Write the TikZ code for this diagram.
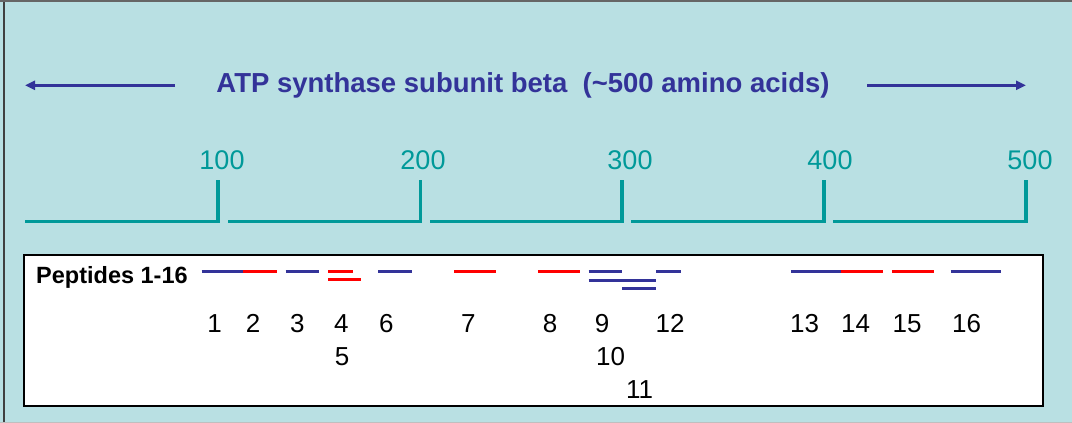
\documentclass[tikz,border=0pt]{standalone}
\usepackage{fontspec}
\setmainfont{Liberation Sans}
\usetikzlibrary{arrows.meta, positioning}
\definecolor{SlideBg}{RGB}{185, 224, 227}
\definecolor{TitleBlue}{RGB}{51, 51, 153}
\definecolor{ScaleTeal}{RGB}{0, 153, 153}
\definecolor{PepRed}{RGB}{255, 0, 0}
\tikzset{
    titlearrow/.style={-{Triangle[length=10pt, width=9pt]}, line width=2.8pt, color=TitleBlue},
    scaleline/.style={line width=3.5pt, color=ScaleTeal, line join=miter},
    scalelabel/.style={anchor=base, inner sep=0pt, text=ScaleTeal, font=\fontsize{27}{32}\selectfont},
    pepblue/.style={line width=3pt, color=TitleBlue},
    pepred/.style={line width=3pt, color=PepRed},
}

\begin{document}
\begin{tikzpicture}[x=1pt, y=-1pt]
                \tikzstyle{peplabel}=[anchor=base, inner sep=0pt, font=\fontsize{26}{30}\selectfont]
                \useasboundingbox (0,0) rectangle (1072,423);

                % Slide background
                \fill[SlideBg] (0,0) rectangle (1072,423);
                \draw[line width=2pt, black!75] (3.5,0) -- (3.5,423);
                \draw[line width=2pt, black!60] (0,1) -- (1072,1);
                \draw[line width=1pt, black!25] (0,422.5) -- (1072,422.5);

                % Title with arrows
                \node[anchor=base, inner sep=0pt, text=TitleBlue, font=\fontsize{27.5}{32}\selectfont\bfseries] (title) at (523,92.3) {ATP synthase subunit beta\ \ (\textasciitilde500 amino acids)};
                \coordinate (arrL1) at (175,85.3);
                \coordinate (arrL2) at (25,85.3);
                \coordinate (arrR1) at (867,85.3);
                \coordinate (arrR2) at (1026,85.3);
                \draw[titlearrow] (arrL1) -- (arrL2);
                \draw[titlearrow] (arrR1) -- (arrR2);

                % Scale
                \node[scalelabel] (s100) at (222,169.3) {100};
                \node[scalelabel] (s200) at (423,169.3) {200};
                \node[scalelabel] (s300) at (630,169.3) {300};
                \node[scalelabel] (s400) at (830,169.3) {400};
                \node[scalelabel] (s500) at (1030,169.3) {500};
                \draw[scaleline] (25,221.5) -- (218,221.5) -- (218,180);
                \draw[scaleline] (228,221.5) -- (420.5,221.5) -- (420.5,180);
                \draw[scaleline] (430,221.5) -- (622,221.5) -- (622,180);
                \draw[scaleline] (631,221.5) -- (824,221.5) -- (824,180);
                \draw[scaleline] (833,221.5) -- (1026,221.5) -- (1026,180);

                % Peptide box
                \draw[line width=1.5pt, fill=white] (24,255) rectangle (1043,406);
                \node[anchor=base west, inner sep=0pt, font=\fontsize{23.5}{28}\selectfont\bfseries] (peps) at (36,283.3) {Peptides 1-16};

                % Peptides
                \draw[pepblue] (201.7,271) -- (243.3,271);
                \draw[pepred] (243.3,271) -- (276.7,271);
                \draw[pepblue] (285.7,271) -- (319,271);
                \draw[pepred] (328.3,271) -- (352.7,271);
                \draw[pepred] (328.3,279.3) -- (361,279.3);
                \draw[pepblue] (378.3,271) -- (411.7,271);
                \draw[pepred] (454,271) -- (496,271);
                \draw[pepred] (537.8,271) -- (580.4,271);
                \draw[pepblue] (588.5,271) -- (622.3,271);
                \draw[pepblue] (588.5,280) -- (656,280);
                \draw[pepblue] (622.3,288.5) -- (656,288.5);
                \draw[pepblue] (656,271) -- (681.4,271);
                \draw[pepblue] (790.9,271) -- (841.2,271);
                \draw[pepred] (841.2,271) -- (883.4,271);
                \draw[pepred] (891.9,271) -- (933.8,271);
                \draw[pepblue] (950.7,271) -- (1001.4,271);

                % Peptide numbers
                \node[peplabel] (n1) at (214.5,332.7) {1};
                \node[peplabel] (n2) at (253,332.7) {2};
                \node[peplabel] (n3) at (297.3,332.7) {3};
                \node[peplabel] (n4) at (341.3,332.7) {4};
                \node[peplabel] (n5) at (342,365) {5};
                \node[peplabel] (n6) at (386.3,332.7) {6};
                \node[peplabel] (n7) at (468.3,332.7) {7};
                \node[peplabel] (n8) at (550,332.7) {8};
                \node[peplabel] (n9) at (602,332.7) {9};
                \node[peplabel] (n10) at (610.5,365) {10};
                \node[peplabel] (n11) at (639.5,398.6) {11};
                \node[peplabel] (n12) at (670,332.7) {12};
                \node[peplabel] (n13) at (804.5,332.7) {13};
                \node[peplabel] (n14) at (855.5,332.7) {14};
                \node[peplabel] (n15) at (907,332.7) {15};
                \node[peplabel] (n16) at (966.5,332.7) {16};
            \end{tikzpicture}
\end{document}
